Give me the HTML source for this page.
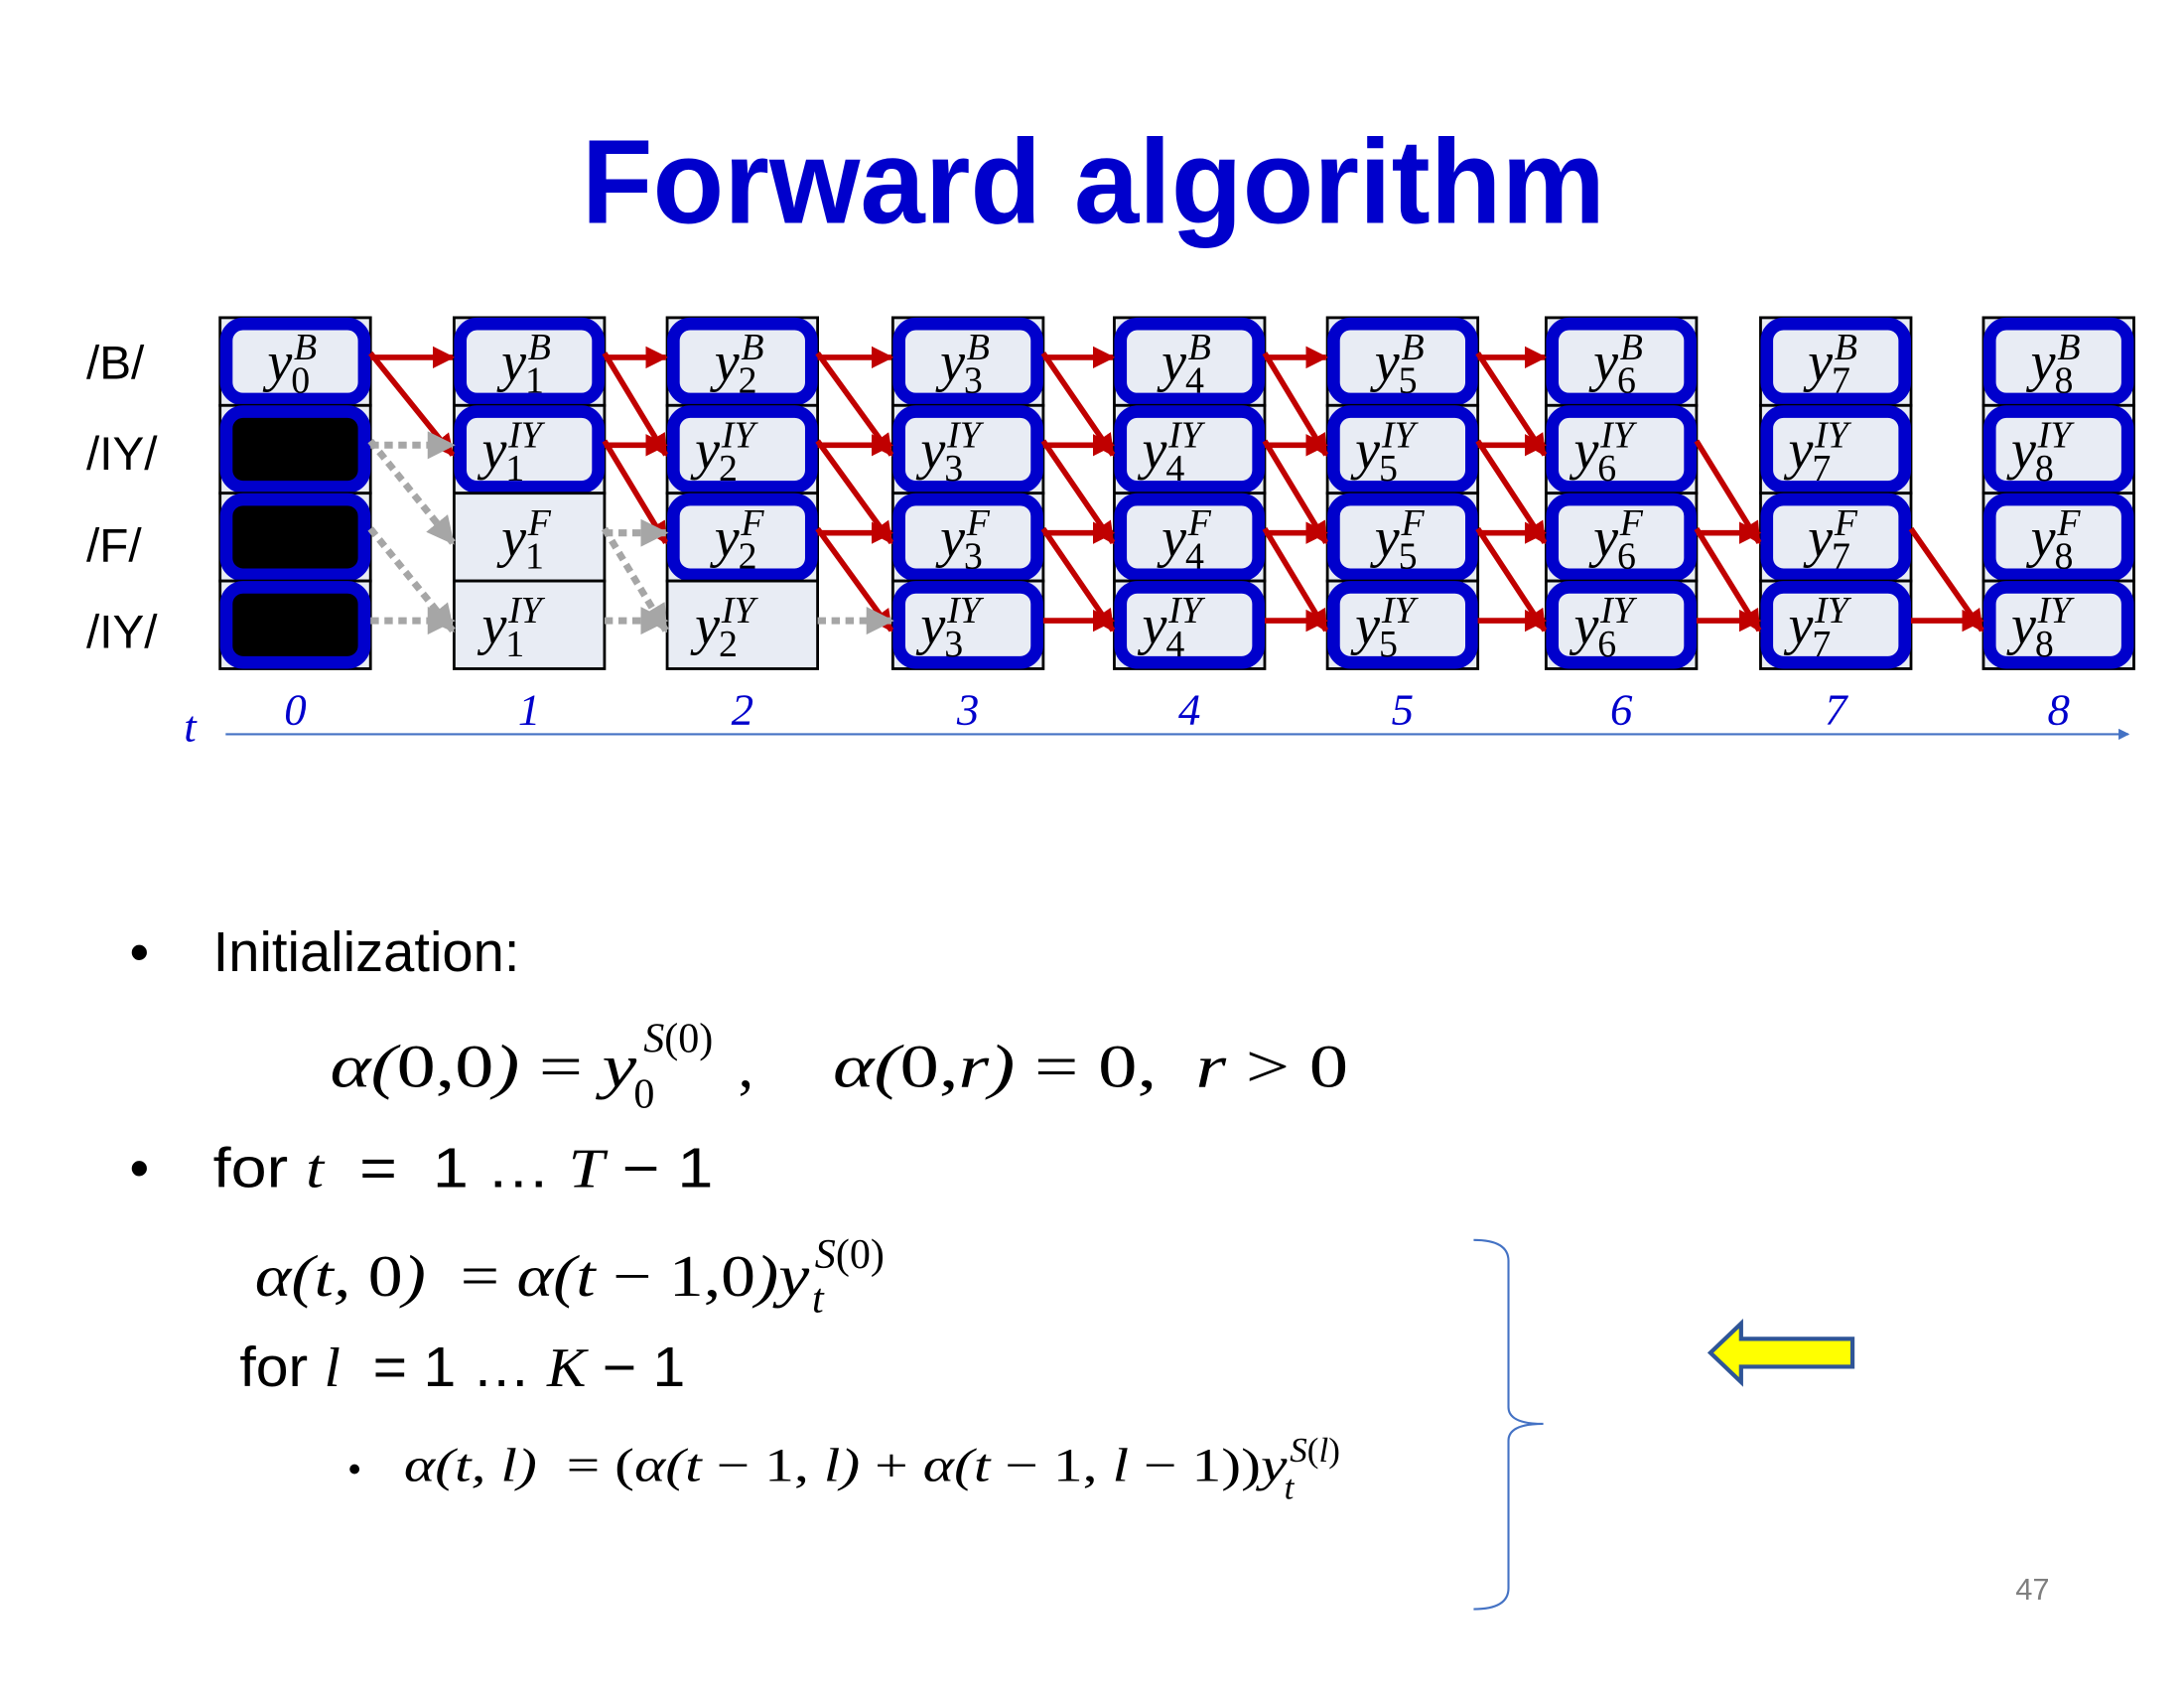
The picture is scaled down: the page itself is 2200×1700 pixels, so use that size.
<!DOCTYPE html>
<html><head><meta charset="utf-8"><style>
html,body{margin:0;padding:0;background:#fff;}
svg{display:block;}
text{white-space:pre;}
.m{font-family:"Liberation Serif",serif;font-style:italic;}
.u{font-style:normal;}
.s{font-family:"Liberation Sans",sans-serif;}
</style></head><body>
<svg id="slide" width="2200" height="1700" viewBox="0 0 1568 1211.6" preserveAspectRatio="none" xmlns="http://www.w3.org/2000/svg" xml:space="preserve">
<defs>
<marker id="ar" markerWidth="4" markerHeight="4" refX="3.6" refY="2" orient="auto" markerUnits="strokeWidth"><path d="M0,0 L4,2 L0,4 z" fill="#c00000"/></marker>
<marker id="ag" markerWidth="4" markerHeight="4" refX="3.6" refY="2" orient="auto" markerUnits="strokeWidth"><path d="M0,0 L4,2 L0,4 z" fill="#a6a6a6"/></marker>
<marker id="ab" markerWidth="8" markerHeight="8" refX="7" refY="4" orient="auto" markerUnits="userSpaceOnUse"><path d="M0,0 L8,4 L0,8 z" fill="#4472c4"/></marker>
</defs>
<text x="785" y="160" text-anchor="middle" class="s" font-weight="bold" font-size="86" fill="#0000cc" textLength="735" lengthAdjust="spacingAndGlyphs">Forward algorithm</text>
<g id="rowlabels" class="s" font-size="34" fill="#000">
<text x="62" y="272">/B/</text>
<text x="62" y="337">/IY/</text>
<text x="62" y="403">/F/</text>
<text x="62" y="465">/IY/</text>
</g>
<g id="grid"></g>
<g id="arrows"></g>
<text x="132" y="532" class="m" font-size="32" fill="#0000cc">t</text>
<line x1="162" y1="527" x2="1528" y2="527" stroke="#4472c4" stroke-width="1.5" marker-end="url(#ab)"/>
<g id="ticks"></g>

<g class="s" font-size="40" fill="#000">
<text x="93" y="697">•</text>
<text x="153" y="697">Initialization:</text>
<text class="m" x="237" y="780" font-size="44" textLength="220" lengthAdjust="spacingAndGlyphs">α(<tspan class="u">0,0</tspan>) <tspan class="u">=</tspan> y</text>
<text class="m" x="462" y="755" font-size="30">S<tspan class="u">(0)</tspan></text>
<text class="u" x="455" y="795" font-size="30" font-family="Liberation Serif">0</text>
<text class="u" x="530" y="780" font-size="44" font-family="Liberation Serif">,</text>
<text class="m" x="598" y="780" font-size="44" textLength="370" lengthAdjust="spacingAndGlyphs">α(<tspan class="u">0,</tspan>r) <tspan class="u">= 0,  </tspan>r <tspan class="u">&gt; 0</tspan></text>
<text x="93" y="852">•</text>
<text x="153" y="852" textLength="359" lengthAdjust="spacingAndGlyphs">for <tspan class="m" font-family="Liberation Serif">t</tspan>  =  1 … <tspan class="m" font-family="Liberation Serif">T</tspan> − 1</text>
<text class="m" x="183" y="930" font-size="42" textLength="398" lengthAdjust="spacingAndGlyphs">α(t, <tspan class="u">0</tspan>)  <tspan class="u">= </tspan>α(t <tspan class="u">− 1,0</tspan>)y</text>
<text class="m" x="585" y="910" font-size="30">S<tspan class="u">(0)</tspan></text>
<text class="m" x="583" y="942" font-size="30">t</text>
<text x="172" y="995" textLength="320" lengthAdjust="spacingAndGlyphs">for <tspan class="m" font-family="Liberation Serif">l</tspan>  = 1 … <tspan class="m" font-family="Liberation Serif">K</tspan> − 1</text>
<text x="250" y="1063" font-size="26">•</text>
<text class="m" x="290" y="1063" font-size="34" textLength="634" lengthAdjust="spacingAndGlyphs">α(t, l)  <tspan class="u">= (</tspan>α(t <tspan class="u">− 1, </tspan>l) <tspan class="u">+ </tspan>α(t <tspan class="u">− 1, </tspan>l <tspan class="u">− 1))</tspan>y</text>
<text class="m" x="926" y="1049" font-size="25">S<tspan class="u">(</tspan>l<tspan class="u">)</tspan></text>
<text class="m" x="922" y="1076" font-size="25">t</text>
</g>
<path d="M1058,890 Q1083,890 1083,905 L1083,1010 Q1083,1022 1108,1022 Q1083,1022 1083,1034 L1083,1140 Q1083,1155 1058,1155" fill="none" stroke="#4472c4" stroke-width="1.5"/>
<path d="M1228,971 L1250,950 L1250,961 L1330,961 L1330,981 L1250,981 L1250,992 Z" fill="#ffff00" stroke="#2f5597" stroke-width="3"/>
<text x="1447" y="1148" class="s" font-size="22" fill="#7f7f7f">47</text>
</svg>
<script>
// diagram data
var colLeft = [158,326,479,641,800,953,1110,1264,1424];
var rowNames = ["B","IY","F","IY"];
// state per column & row: 0 plain, 1 blue, 2 blocked (black)
var cellState = [[1,2,2,2],[1,1,0,0],[1,1,1,0],[1,1,1,1],[1,1,1,1],[1,1,1,1],[1,1,1,1],[1,1,1,1],[1,1,1,1]];
// arrows: [fromCol, fromRow, toRow, type] type r=red g=gray
var arrowList = [
[0,0,0,'r'],[0,0,1,'r'],[0,1,1,'g'],[0,1,2,'g'],[0,2,3,'g'],[0,3,3,'g'],
[1,0,0,'r'],[1,0,1,'r'],[1,1,1,'r'],[1,1,2,'r'],[1,2,2,'g'],[1,2,3,'g'],[1,3,3,'g'],
[2,0,0,'r'],[2,0,1,'r'],[2,1,1,'r'],[2,1,2,'r'],[2,2,2,'r'],[2,2,3,'r'],[2,3,3,'g'],
[3,0,0,'r'],[3,0,1,'r'],[3,1,1,'r'],[3,1,2,'r'],[3,2,2,'r'],[3,2,3,'r'],[3,3,3,'r'],
[4,0,0,'r'],[4,0,1,'r'],[4,1,1,'r'],[4,1,2,'r'],[4,2,2,'r'],[4,2,3,'r'],[4,3,3,'r'],
[5,0,0,'r'],[5,0,1,'r'],[5,1,1,'r'],[5,1,2,'r'],[5,2,2,'r'],[5,2,3,'r'],[5,3,3,'r'],
[6,1,2,'r'],[6,2,2,'r'],[6,2,3,'r'],[6,3,3,'r'],
[7,2,3,'r'],[7,3,3,'r']
];
var tickLabels = ["0","1","2","3","4","5","6","7","8"];

var NS = "http://www.w3.org/2000/svg";
var CW = 108, RH = 63, TOP = 228;
function colX(c){ return colLeft[c]; }
function rowY(r){ return TOP + r*RH; }
function mk(tag, attrs, parent){
  var e = document.createElementNS(NS, tag);
  for (var k in attrs) e.setAttribute(k, attrs[k]);
  parent.appendChild(e); return e;
}
var grid = document.getElementById('grid');
for (var c=0;c<colLeft.length;c++){
  var colg = mk('g',{},grid);
  
  
  for (var r=0;r<4;r++){
    var x=colX(c), y=rowY(r), st=cellState[c][r];
    var bg = mk('rect',{x:x,y:y,width:CW,height:RH,fill:'#e8ecf4',stroke:'#000','stroke-width':2},colg);
    
    
    if (st>0){
      var br = mk('rect',{x:x+4.5,y:y+4.5,width:CW-9,height:RH-9,rx:12,fill:(st==2?'#000':'#e8ecf4'),stroke:'#0000cc','stroke-width':9},colg);
      
      
    }
    if (st!=2){
      var sup = rowNames[r];
      var wide = sup.length>1;
      var bx = x + CW/2 - (wide?34:20);
      var t = mk('text',{x:bx,y:y+45,'font-size':40,fill:'#000','class':'m'},colg);
      
      
      t.textContent='y';
      var s1 = mk('text',{x:bx+19,y:y+30,'font-size':27,fill:'#000','class':'m'},colg);
      
      
      s1.textContent=sup;
      var s2 = mk('text',{x:bx+17,y:y+54,'font-size':27,fill:'#000','class':'m u'},colg);
      
      
      s2.textContent=String(c);
    }
  }
}
var ag = document.getElementById('arrows');
for (var i=0;i<arrowList.length;i++){
  var a=arrowList[i], c0=a[0];
  var diag = a[1]!=a[2];
  var x1=colX(c0)+CW, x2=colX(c0+1)-1;
  var y1=rowY(a[1])+RH/2 - (diag?6:3), y2=rowY(a[2])+RH/2+(diag?4:-3);
  var red = a[3]=='r';
  var ln = mk('line',{x1:x1,y1:y1,x2:x2,y2:y2,stroke:red?'#c00000':'#a6a6a6','stroke-width':red?4:5,'stroke-dasharray':red?'none':'6 4','marker-end':red?'url(#ar)':'url(#ag)'},ag);
  
  
}
var tg = document.getElementById('ticks');
for (var k=0;k<tickLabels.length;k++){
  var tt = mk('text',{x:colX(k)+CW/2,y:520,'text-anchor':'middle','font-size':32,fill:'#0000cc','class':'m'},tg);
  
  
  tt.textContent = tickLabels[k];
}
</script>
</body></html>
